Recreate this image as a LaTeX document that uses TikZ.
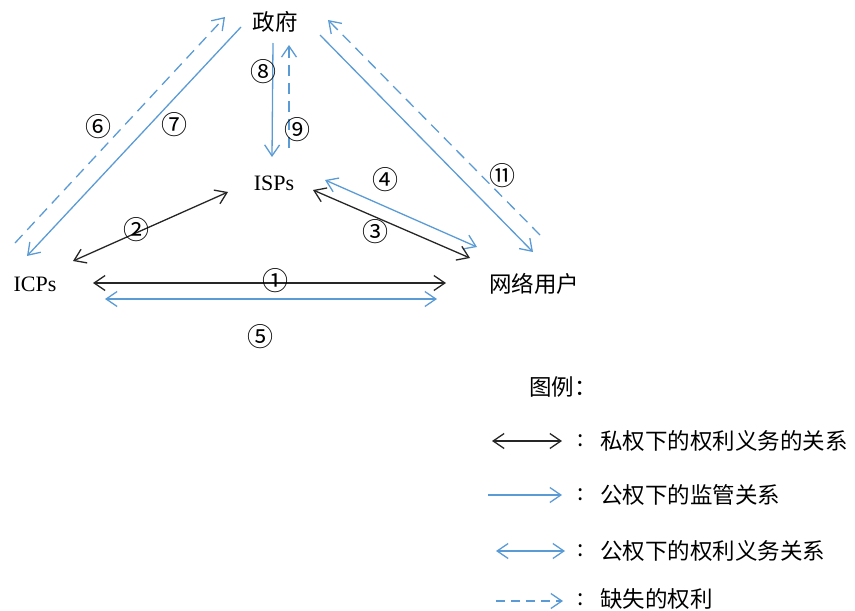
\documentclass[tikz,border=0pt]{standalone}
\usepackage{fontspec}
\setmainfont{Liberation Serif}
\newfontfamily\cjk{Noto Sans CJK SC}
\usetikzlibrary{arrows.meta}
\definecolor{lblue}{RGB}{91,155,213}
\begin{document}
\begin{tikzpicture}[x=1pt,y=-1pt,
  lab/.style={font=\fontsize{22.5}{24}\selectfont\cjk, inner sep=0},
  latin/.style={font=\fontsize{22}{24}\selectfont, inner sep=0},
  num/.style={font=\fontsize{26}{28}\selectfont\cjk, inner sep=0},
  tipb/.tip={Straight Barb[length=11pt,width=15pt]},
  blk/.style={draw=black!85, line width=1.3pt, tipb-tipb},
  bsolid/.style={draw=lblue, line width=1.3pt, -tipb},
  bdouble/.style={draw=lblue, line width=1.3pt, tipb-tipb},
  bdash/.style={draw=lblue, line width=1.3pt, dash pattern=on 11pt off 7pt, -tipb},
]
\useasboundingbox (0,0) rectangle (855,611);
% main nodes
\node[lab] (gov) at (275,22) {政府};
\node[latin] (isp) at (274,183) {ISPs};
\node[latin] (icp) at (35,284) {ICPs};
\node[lab] (user) at (534,284) {网络用户};
% endpoints
\coordinate (a6s) at (15,243);  \coordinate (a6e) at (225,17);
\coordinate (a7s) at (241,27);  \coordinate (a7e) at (27,256);
\coordinate (a8s) at (273,43);  \coordinate (a8e) at (272,157);
\coordinate (a9s) at (289,148); \coordinate (a9e) at (289,45);
\coordinate (a2s) at (73,261);  \coordinate (a2e) at (228,192);
\coordinate (a11s) at (540,235); \coordinate (a11e) at (328,20);
\coordinate (a10s) at (320,35); \coordinate (a10e) at (533,252);
\coordinate (a4s) at (325,180); \coordinate (a4e) at (477,247);
\coordinate (a3s) at (313,190); \coordinate (a3e) at (470,258);
\coordinate (a1s) at (93,283);  \coordinate (a1e) at (446,283);
\coordinate (a5s) at (105,299); \coordinate (a5e) at (437,299);
% connectors
\draw[bdash] (a6s) -- (a6e);
\draw[bsolid] (a7s) -- (a7e);
\draw[bsolid] (a8s) -- (a8e);
\draw[bdash] (a9s) -- (a9e);
\draw[blk] (a2s) -- (a2e);
\draw[bdash] (a11s) -- (a11e);
\draw[bsolid] (a10s) -- (a10e);
\draw[bdouble] (a4s) -- (a4e);
\draw[blk] (a3s) -- (a3e);
\draw[blk] (a1s) -- (a1e);
\draw[bdouble] (a5s) -- (a5e);
% labels
\node[num] (n6) at (98,127) {⑥};
\node[num] (n7) at (174,125) {⑦};
\node[num] (n8) at (263,72) {⑧};
\node[num] (n9) at (297,130) {⑨};
\node[num] (n2) at (136,230) {②};
\node[num] (n4) at (385,180) {④};
\node[num] (n3) at (375,232) {③};
\node[num] (n11) at (502,176) {⑪};
\node[num] (n1) at (275,281) {①};
\node[num] (n5) at (260,337) {⑤};
% legend
\node[lab] (lgt) at (563,387) {图例：};
\coordinate (l1s) at (492,441); \coordinate (l1e) at (562,441);
\coordinate (l2s) at (488,495); \coordinate (l2e) at (562,495);
\coordinate (l3s) at (496,551); \coordinate (l3e) at (565,551);
\coordinate (l4s) at (496,601); \coordinate (l4e) at (563,601);
\draw[blk] (l1s) -- (l1e);
\draw[bsolid] (l2s) -- (l2e);
\draw[bdouble] (l3s) -- (l3e);
\draw[bdash, dash pattern=on 9pt off 6pt] (l4s) -- (l4e);
\node[lab] (c1) at (581,441) {:};
\node[lab] (c2) at (581,495) {:};
\node[lab] (c3) at (581,551) {:};
\node[lab] (c4) at (581,600) {:};
\node[lab, anchor=west] (t1) at (600,441) {私权下的权利义务的关系};
\node[lab, anchor=west] (t2) at (600,495) {公权下的监管关系};
\node[lab, anchor=west] (t3) at (600,551) {公权下的权利义务关系};
\node[lab, anchor=west] (t4) at (600,599) {缺失的权利};
\end{tikzpicture}
\end{document}
